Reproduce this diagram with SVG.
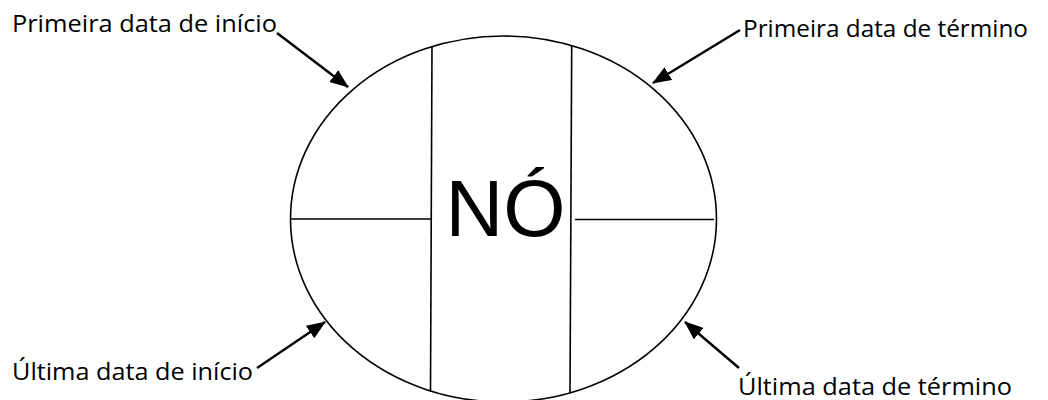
<svg xmlns="http://www.w3.org/2000/svg" width="1048" height="400" viewBox="0 0 1048 400">
<style>
.lbl{font-family:"Open Sans","Liberation Sans",sans-serif;font-size:23.5px;fill:#000}
.big{font-family:"Liberation Sans",Arial,sans-serif;font-size:80px;fill:#000}
.ln{stroke:#000;stroke-width:1.6;fill:none}
.arr{stroke:#000;stroke-width:2.4;fill:none}
</style>
<defs>
<marker id="ah" markerUnits="userSpaceOnUse" markerWidth="19" markerHeight="15" refX="18" refY="7.5" orient="auto">
<path d="M0,0 L19,7.5 L0,15 z" fill="#000"/>
</marker>
</defs>
<g id="node">
<ellipse cx="503.5" cy="219" rx="213" ry="183" class="ln"/>
<line x1="432" y1="46.5" x2="430.5" y2="392" class="ln"/>
<line x1="571.7" y1="46" x2="570" y2="393" class="ln"/>
<line x1="291" y1="219" x2="431" y2="219" class="ln"/>
<line x1="575" y1="219.5" x2="714" y2="219.5" class="ln"/>
<text x="505.5" y="236" text-anchor="middle" class="big">NÓ</text>
</g>
<g id="labels">
<text id="pdi" x="12" y="32" class="lbl" textLength="265" lengthAdjust="spacingAndGlyphs">Primeira data de início</text>
<text id="pdt" x="743" y="37" class="lbl" textLength="285" lengthAdjust="spacingAndGlyphs">Primeira data de término</text>
<text id="udi" x="12" y="380" class="lbl" textLength="241" lengthAdjust="spacingAndGlyphs">Última data de início</text>
<text id="udt" x="738" y="395" class="lbl" textLength="274" lengthAdjust="spacingAndGlyphs">Última data de término</text>
</g>
<g id="connectors">
<line x1="277" y1="33" x2="348" y2="87" class="arr" marker-end="url(#ah)"/>
<line x1="740" y1="30" x2="653" y2="83" class="arr" marker-end="url(#ah)"/>
<line x1="257" y1="368" x2="325" y2="322" class="arr" marker-end="url(#ah)"/>
<line x1="739" y1="368" x2="685" y2="322" class="arr" marker-end="url(#ah)"/>
</g>
</svg>
